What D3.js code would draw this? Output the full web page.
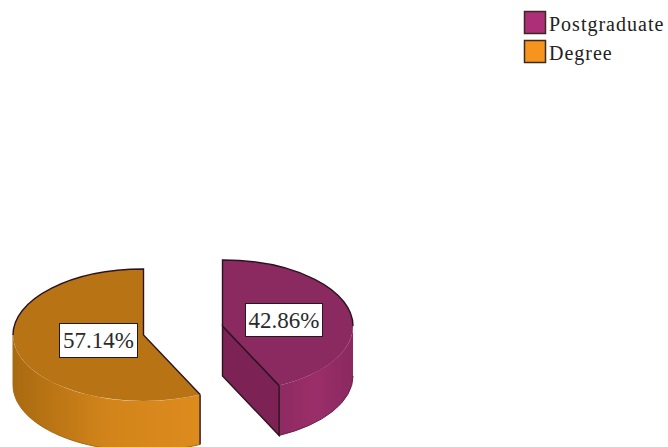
<!DOCTYPE html>
<html>
<head>
<meta charset="utf-8">
<script src="https://cdn.jsdelivr.net/npm/d3@7/dist/d3.min.js"></script>
<style>
  html, body { margin: 0; padding: 0; background: #fff; }
  svg { display: block; }
</style>
</head>
<body>
<div id="chart"></div>
<script>
// Qualification shares
const categories = ["Postgraduate", "Degree"];
const shares = [42.86, 57.14];

// Slice colours: legend/top/wall shades
const legendColors = ["#ad2f78", "#f7941d"];
const topColors = ["#8a2a60", "#b87414"];
const cutColors = ["#7c2254", "#a5670f"];
const wallEdges = ["#6e1d4b", "#a56a16"];
const wallStops = [["#8a2960", "#9b2e6a", "#8e2a62"], ["#dd8b1d", "#d2841a", "#a96a10"]];

const width = 668, height = 447;
const rx = 130.5, ry = 66, depth = 50;
const sliceCentres = [[222.5, 326], [143.5, 335]];
const outline = "#2b1420";

const svg = d3.select("#chart").append("svg")
  .attr("width", width).attr("height", height);
const defs = svg.append("defs");

const pie = d3.pie().sort(null).value(d => d);
const arcs = pie(shares);

// Point on the tilted rim; angle runs clockwise from twelve o'clock
const rim = (c, a, dy = 0) => [c[0] + rx * Math.sin(a), c[1] - ry * Math.cos(a) + dy];
const ellipseTo = (p, a0, a1) => `A${rx},${ry} 0 ${a1 - a0 > Math.PI ? 1 : 0} 1 ${p[0]},${p[1]}`;
const ellipseBack = (p, a0, a1) => `A${rx},${ry} 0 ${a1 - a0 > Math.PI ? 1 : 0} 0 ${p[0]},${p[1]}`;

arcs.forEach((d, i) => {
  const c = sliceCentres[i];
  const g = svg.append("g").attr("class", "slice");
  const a0 = d.startAngle, a1 = d.endAngle;

  // Outer wall: only the rim between the right and left extremes faces the viewer
  const w0 = Math.max(a0, Math.PI / 2), w1 = Math.min(a1, 3 * Math.PI / 2);
  const gradId = "wall" + i;
  const grad = defs.append("linearGradient").attr("id", gradId)
    .attr("gradientUnits", "userSpaceOnUse")
    .attr("x1", rim(c, w0)[0]).attr("x2", rim(c, w1)[0]).attr("y1", 0).attr("y2", 0);
  wallStops[i].forEach((col, k) => grad.append("stop")
    .attr("offset", k / (wallStops[i].length - 1)).attr("stop-color", col));

  const pA = rim(c, w0), pB = rim(c, w1), qB = rim(c, w1, depth), qA = rim(c, w0, depth);
  g.append("path")
    .attr("d", `M${pA}${ellipseTo(pB, w0, w1)}L${qB}${ellipseBack(qA, w0, w1)}Z`)
    .attr("fill", `url(#${gradId})`)
    .attr("stroke", "none");
  g.append("path")
    .attr("d", `M${pB}L${qB}${ellipseBack(qA, w0, w1)}`)
    .attr("fill", "none").attr("stroke", wallEdges[i]).attr("stroke-width", 1);

  // Cut face beside the end edge of the first slice
  if (i === 0) {
    const e = rim(c, a1);
    const eb = rim(c, a1, depth);
    g.append("path")
      .attr("d", `M${c}L${e}L${eb}L${[c[0], c[1] + depth]}Z`)
      .attr("fill", cutColors[i]).attr("stroke", outline).attr("stroke-width", 1.4);
  } else {
    // Thin end edge of the wall at the cut
    const e = rim(c, a0);
    g.append("path")
      .attr("d", `M${e}L${rim(c, a0, depth)}`)
      .attr("stroke", outline).attr("stroke-width", 1.4);
  }

  // Top surface
  const s = rim(c, a0), e = rim(c, a1);
  g.append("path")
    .attr("d", `M${c}L${s}${ellipseTo(e, a0, a1)}Z`)
    .attr("fill", topColors[i]).attr("stroke", "none");
  // Dark outline along the back of the rim and the cut edges
  if (i === 0) {
    const m = rim(c, Math.PI / 2);
    g.append("path").attr("fill", "none").attr("stroke", outline).attr("stroke-width", 1.4)
      .attr("d", `M${c}L${s}${ellipseTo(m, a0, Math.PI / 2)}`);
    g.append("path").attr("fill", "none").attr("stroke", outline).attr("stroke-width", 1.4)
      .attr("d", `M${c}L${e}`);
  } else {
    const m = rim(c, Math.PI * 1.5);
    g.append("path").attr("fill", "none").attr("stroke", outline).attr("stroke-width", 1.4)
      .attr("d", `M${s}L${c}L${e}${ellipseBack(m, Math.PI * 1.5, a1)}`);
  }
});

// Percentage labels in white boxes
const labelBoxes = [[245, 303, 77, 33], [59, 323, 78, 34]];
arcs.forEach((d, i) => {
  const b = labelBoxes[i];
  svg.append("rect")
    .attr("x", b[0] + 0.5).attr("y", b[1] + 0.5).attr("width", b[2]).attr("height", b[3])
    .attr("fill", "#fff").attr("stroke", "#241a1e").attr("stroke-width", 1);
  svg.append("text")
    .attr("x", b[0] + b[2] / 2 + 0.5).attr("y", b[1] + b[3] / 2 + 8)
    .attr("text-anchor", "middle")
    .attr("font-family", "'Liberation Serif', 'Times New Roman', serif")
    .attr("font-size", 23).attr("fill", "#2a2a2a")
    .text(d3.format(".2f")(d.data) + "%");
});

// Legend
const legendY = d3.scalePoint().domain(categories).range([11, 40]);
const legend = svg.append("g").selectAll("g").data(categories).join("g");
legend.append("rect")
  .attr("x", 524.5).attr("y", d => legendY(d) + 0.5)
  .attr("width", 21).attr("height", 22)
  .attr("fill", (d, i) => legendColors[i])
  .attr("stroke", "#3a2a20").attr("stroke-width", 1.5);
legend.append("text")
  .attr("x", 549).attr("y", d => legendY(d) + 20)
  .attr("font-family", "'Liberation Serif', 'Times New Roman', serif")
  .attr("font-size", 20).attr("letter-spacing", 1).attr("fill", "#222")
  .text(d => d);
</script>
</body>
</html>
